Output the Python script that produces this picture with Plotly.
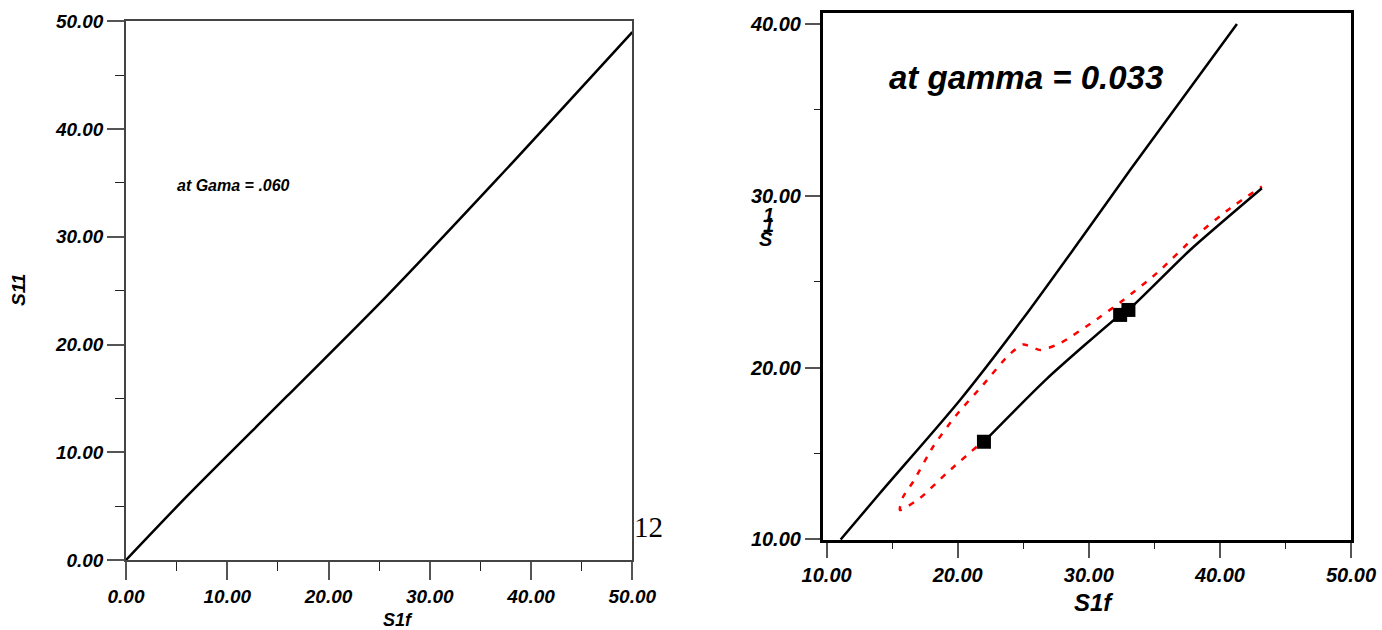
import plotly.graph_objects as go

W, H = 1382, 630

# ---- left panel: S11 against S1f at Gama = .060 ----
left_s1f = [0.0, 6.0, 15.9, 25.7, 36.6, 50.0]
left_s11 = [0.0, 5.9, 15.2, 24.45, 35.3, 49.0]

# ---- right panel: curves at gamma = 0.033 ----
upper_s1f = [11.07, 14.06, 20.18, 25.0, 29.34, 33.15, 41.3]
upper_s11 = [10.0, 12.69, 18.12, 22.87, 27.43, 31.5, 40.0]

lower_s1f = [22.0, 26.79, 32.39, 33.02, 37.73, 43.2]
lower_s11 = [15.69, 19.35, 23.07, 23.36, 26.85, 30.44]

point_s1f = [22.0, 32.39, 33.02]
point_s11 = [15.69, 23.07, 23.36]

dotted_s1f = [21.45, 19.14, 17.11, 15.59, 15.84, 16.6, 18.12, 19.9, 21.93,
              23.85, 25.0, 26.28, 27.8, 30.35, 32.64, 35.19, 38.24, 40.79, 43.2]
dotted_s11 = [15.4, 13.85, 12.4, 11.72, 12.49, 13.36, 15.4, 17.25, 19.0,
              20.7, 21.35, 21.03, 21.42, 22.68, 23.94, 25.5, 27.72, 29.28, 30.54]


def px_x(p):
    return p / W


def px_y(p):
    return 1 - p / H


SANS = "Liberation Sans, Arial, sans-serif"


def bold_italic(size):
    return dict(family=SANS, size=size, color="black", weight="bold", style="italic")


tick_font = bold_italic(19)
tick_font2 = bold_italic(20)

fig = go.Figure()

fig.add_trace(go.Scatter(x=left_s1f, y=left_s11, mode="lines",
                         line=dict(color="black", width=2.5, shape="spline", smoothing=0.8),
                         xaxis="x", yaxis="y", showlegend=False))

fig.add_trace(go.Scatter(x=upper_s1f, y=upper_s11, mode="lines",
                         line=dict(color="black", width=2.5, shape="spline", smoothing=0.8),
                         xaxis="x2", yaxis="y2", showlegend=False))
fig.add_trace(go.Scatter(x=dotted_s1f, y=dotted_s11, mode="lines",
                         line=dict(color="#ff0000", width=2.5, dash="6px,8px",
                                   shape="spline", smoothing=0.6),
                         xaxis="x2", yaxis="y2", showlegend=False))
fig.add_trace(go.Scatter(x=lower_s1f, y=lower_s11, mode="lines",
                         line=dict(color="black", width=2.5, shape="spline", smoothing=0.6),
                         xaxis="x2", yaxis="y2", showlegend=False))
fig.add_trace(go.Scatter(x=point_s1f, y=point_s11, mode="markers",
                         marker=dict(symbol="square", size=14, color="black"),
                         xaxis="x2", yaxis="y2", showlegend=False))


def axis(domain, rng, tick0, ticklen, minorlen, font, linecolor, linewidth, anchor):
    return dict(
        domain=domain, range=rng, tick0=tick0, dtick=10, tickformat=".2f",
        ticks="outside", ticklen=ticklen, tickwidth=1.5, tickcolor="#555",
        minor=dict(ticks="outside", ticklen=minorlen, tickwidth=1.2,
                   tickcolor="#222", dtick=5, tick0=tick0),
        showline=True, linecolor=linecolor, linewidth=linewidth, mirror=True,
        showgrid=False, zeroline=False, tickfont=font, anchor=anchor,
        automargin=False,
    )


fig.update_layout(
    width=W, height=H,
    margin=dict(l=0, r=0, t=0, b=0, autoexpand=False),
    paper_bgcolor="white", plot_bgcolor="white",
    xaxis=axis([px_x(126), px_x(632.3)], [0, 50], 0, 18, 9, tick_font,
               "#444", 1.5, "y"),
    yaxis=axis([px_y(560), px_y(21.3)], [0, 50], 0, 17, 9, tick_font,
               "#444", 1.5, "x"),
    xaxis2=axis([px_x(822.7), px_x(1351)], [9.7, 50], 10, 15, 6, tick_font2,
                "black", 2.5, "y2"),
    yaxis2=axis([px_y(540), px_y(12.7)], [9.97, 40.66], 10, 15, 6, tick_font2,
                "black", 2.5, "x2"),
)


def label(text, x, y, font, angle=0):
    return dict(text=text, x=px_x(x), y=px_y(y), xref="paper", yref="paper",
                xanchor="center", yanchor="middle", showarrow=False,
                textangle=angle, font=font)


annotations = [
    label("at Gama = .060", 233, 185, bold_italic(16)),
    label("at gamma = 0.033", 1026, 77, bold_italic(33)),
    label("S1f", 398, 620, bold_italic(18)),
    label("S11", 19, 290, bold_italic(19), angle=-90),
    label("S1f", 1093, 602, bold_italic(24)),
    # the rotated S11 title of the right panel is printed as stacked glyphs
    label("1", 768, 215, tick_font2),
    label("1", 768, 225, tick_font2),
    label("S", 766, 239, tick_font2),
    label("12", 648, 527, dict(family="Liberation Serif, Times New Roman, serif",
                               size=29, color="black")),
]
fig.update_layout(annotations=annotations)

fig.write_html("out.html")
